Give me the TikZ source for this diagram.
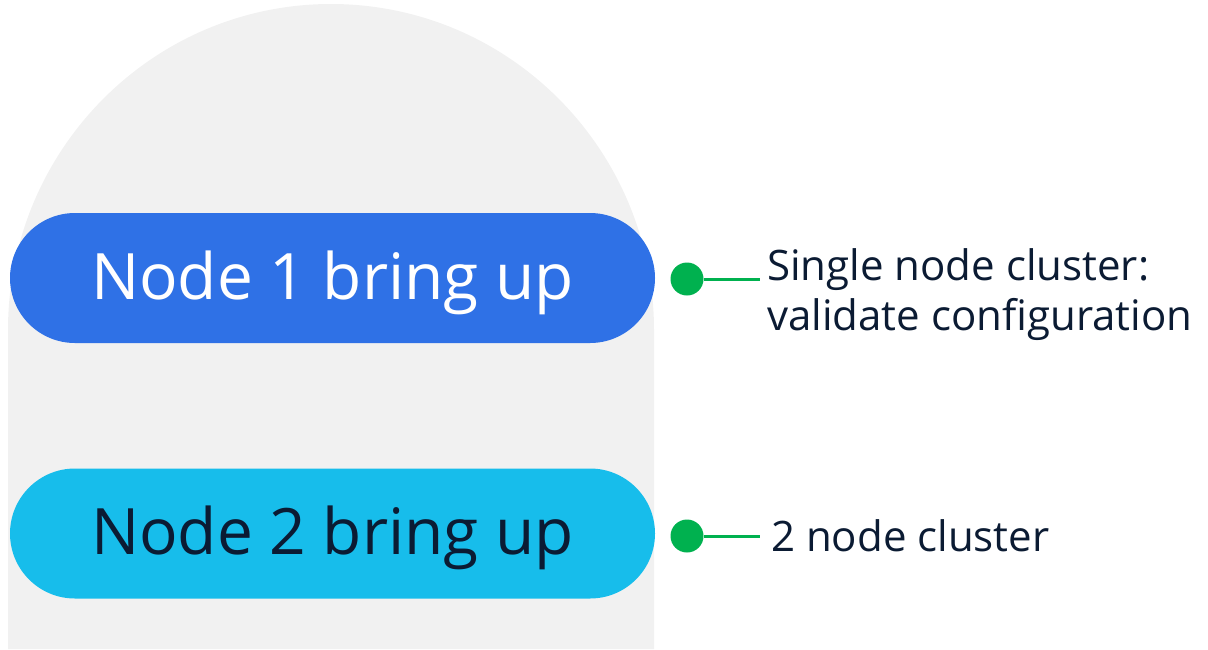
\documentclass[tikz,border=0pt]{standalone}
\usepackage{fontspec}
\setmainfont{Open Sans}
\usetikzlibrary{positioning}
\definecolor{panelgray}{RGB}{241,241,241}
\definecolor{nodeblue}{RGB}{47,113,230}
\definecolor{nodecyan}{RGB}{23,189,235}
\definecolor{dotgreen}{RGB}{0,177,79}
\definecolor{inkdark}{RGB}{11,27,51}

\begin{document}
\begin{tikzpicture}[x=1pt, y=-1pt,
  pill/.style={rounded corners=65pt, minimum width=645pt, minimum height=130pt, inner sep=0pt,
    text height=46pt, text depth=4pt, font=\fontsize{64}{64}\selectfont},
  milestone/.style={circle, fill=dotgreen, minimum size=33pt, inner sep=0pt},
  lbl/.style={align=left, inner sep=0pt, text=inkdark, font=\fontsize{42}{50}\selectfont}]
  \useasboundingbox (0,0) rectangle (1208,649);

  % Background arch
  \fill[panelgray] (8,649) -- (8,330) arc[start angle=180, end angle=360, x radius=323, y radius=326] -- (654,649) -- cycle;

  % Bring-up steps
  \node[pill, fill=nodeblue, text=white] (step1) at (332.5,278) {Node 1 bring up};
  \node[pill, fill=nodecyan, text=inkdark] (step2) at (332.5,533.5) {Node 2 bring up};

  % Milestones
  \node[milestone] (dot1) at (687,279) {};
  \node[milestone] (dot2) at (687,536) {};
  \coordinate (tip1) at (760,279);
  \coordinate (tip2) at (760,536);
  \draw[dotgreen, line width=3pt] (dot1) -- (tip1);
  \draw[dotgreen, line width=3pt] (dot2) -- (tip2);
  \node[lbl, anchor=base west] (note1) at ([xshift=7pt, yshift=-51pt]tip1) {Single node cluster:\\validate configuration};
  \node[lbl, anchor=west, text height=30pt, text depth=0pt] (note2) at ([xshift=11pt]tip2) {2 node cluster};
\end{tikzpicture}
\end{document}
